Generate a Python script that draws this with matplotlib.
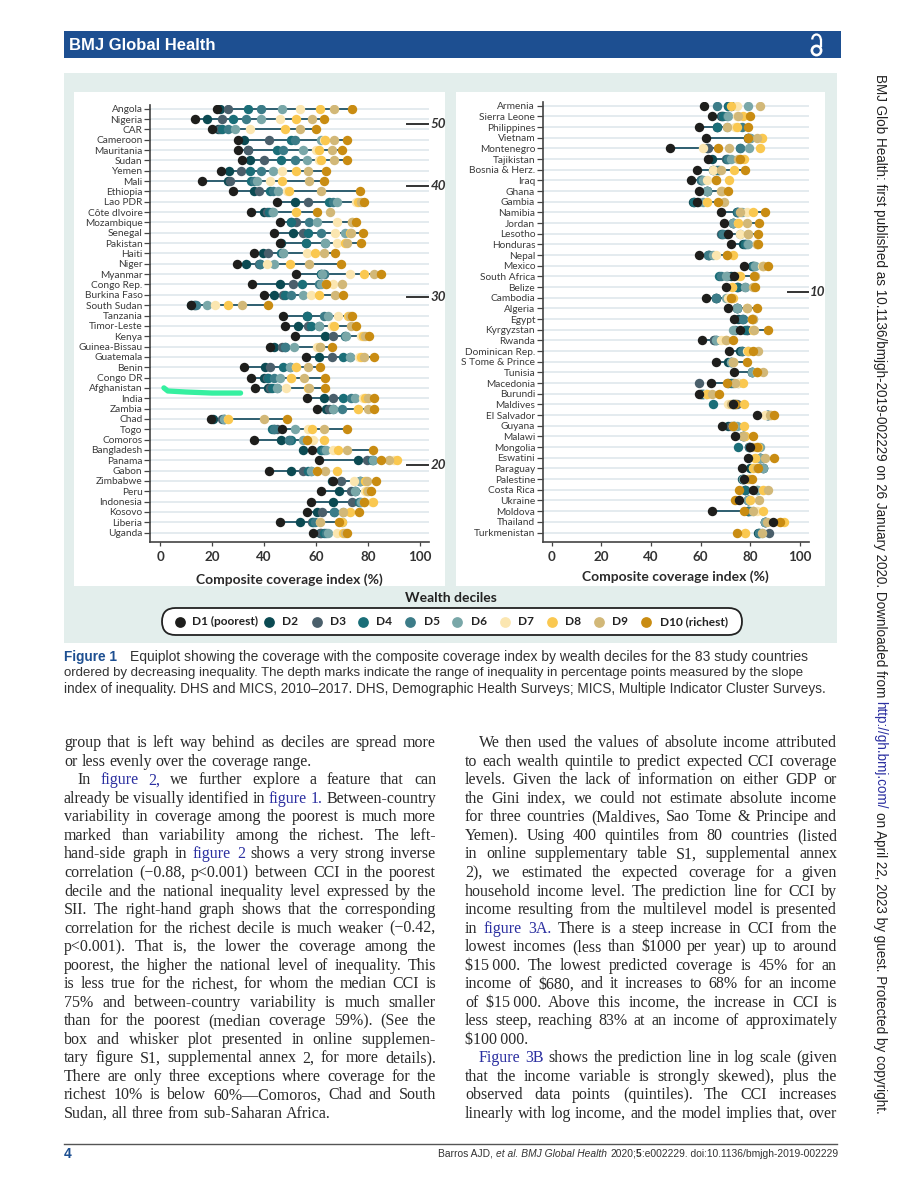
import numpy as np
import matplotlib
matplotlib.use('Agg')
import matplotlib.pyplot as plt
from matplotlib.patches import Rectangle, FancyBboxPatch, Circle, Arc

W, H = 900, 1200

left_countries = ['Angola', 'Nigeria', 'CAR', 'Cameroon', 'Mauritania', 'Sudan', 'Yemen', 'Mali', 'Ethiopia',
                  'Lao PDR', 'Côte dIvoire', 'Mozambique', 'Senegal', 'Pakistan', 'Haiti', 'Niger', 'Myanmar',
                  'Congo Rep.', 'Burkina Faso', 'South Sudan', 'Tanzania', 'Timor-Leste', 'Kenya', 'Guinea-Bissau',
                  'Guatemala', 'Benin', 'Congo DR', 'Afghanistan', 'India', 'Zambia', 'Chad', 'Togo', 'Comoros',
                  'Bangladesh', 'Panama', 'Gabon', 'Zimbabwe', 'Peru', 'Indonesia', 'Kosovo', 'Liberia', 'Uganda']

# one row per country, D1 to D10
left_values = [
    [22, 23, 26, 34, 39, 47, 54, 61.5, 67, 74],
    [13.5, 18, 24, 28, 33, 39, 46, 52.5, 58.5, 63],
    [20, 22.5, 23, 24, 26, 29, 34.5, 48, 54, 60],
    [30, 32.5, 42, 50.5, 52, 62, 63, 63.5, 67, 72],
    [30, 34, 34, 45, 47.5, 55, 60, 61, 66, 70],
    [31.5, 34.5, 40, 46.5, 52, 56.5, 61, 62, 67, 72],
    [23.5, 26.5, 31, 34.5, 39, 43.5, 47, 52.5, 57, 64],
    [16, 26, 27, 35, 36, 37.5, 42.5, 47, 57.5, 63],
    [28, 36, 38, 42.5, 43.5, 45.5, 49, 49.5, 62, 77],
    [45, 52, 57, 65, 66.5, 68, 75.5, 76, 77.5, 78.5],
    [35, 40, 41, 42, 43, 43.5, 52.5, 52.5, 65.5, 60.5],
    [46, 50.5, 52.5, 50.5, 57.5, 60.5, 68, 74, 74, 75.5],
    [44, 51, 55, 57, 62, 71, 67.5, 73, 73.5, 78],
    [46, 46.5, 56, 56, 63.5, 63.5, 68, 71, 72, 77.5],
    [36, 39.5, 41.5, 46.5, 47.5, 47.5, 56.5, 59.5, 63, 67.5],
    [29.5, 33, 38, 38.5, 38.5, 44, 41, 50, 57.5, 69.5],
    [52.5, 62, 63, 62, 63, 62.5, 73, 78.5, 82.5, 85],
    [35.5, 46, 51, 54.5, 61, 62, 66.5, 64, 70, 64],
    [40, 44, 47.5, 48, 50.5, 55, 58, 61, 67.5, 70.5],
    [12, 13, 13.5, 12, 14, 18, 21, 26, 31.5, 41.5],
    [47.5, 56.5, 56.5, 56.5, 63, 64.5, 68.5, 72.5, 73, 74],
    [48, 53, 57, 58, 61, 61, 66, 67, 73.5, 75.5],
    [52, 63.5, 66.5, 71, 71, 71.5, 77.5, 78, 79, 80.5],
    [42.5, 44, 47, 48, 48, 51.5, 60.5, 61.5, 61.5, 66],
    [56, 61, 66, 70.5, 73, 73, 76.5, 77.5, 78.5, 82.5],
    [32.5, 40.5, 42.5, 47.5, 50, 50, 52.5, 52.5, 57, 61.5],
    [35, 40, 41, 41.5, 44, 46, 50.5, 50.5, 55.5, 63.5],
    [36.5, 41.5, 42.5, 43, 45, 45, 48.5, 57, 57.5, 63.5],
    [56.5, 63, 66.5, 70.5, 73.5, 75, 78, 79, 80, 82.5],
    [60.5, 64, 65, 66.5, 70, 66.5, 76, 76, 80, 82.5],
    [19.5, 20.5, 24, 24.5, 24.5, 24.5, 26, 26, 40, 49],
    [47, 44, 45, 43, 44, 52, 57, 58.5, 63, 72],
    [36, 46.5, 49.5, 50.5, 49.5, 55, 59, 63, 56.5, 56.5],
    [58.5, 55, 62, 62, 63, 64, 66.5, 68.5, 72, 82],
    [61, 76, 79.5, 81.5, 82, 82, 90, 91, 88, 85],
    [42, 50.5, 55, 57, 58, 58, 60.5, 68, 63.5, 60.5],
    [66.5, 66, 69.5, 77, 77, 77, 74.5, 79, 79.5, 83],
    [62, 69, 73.5, 75, 75, 75, 79, 79.5, 80, 81],
    [58, 66.5, 74, 76.5, 77, 77.5, 81.5, 82, 78.5, 78.5],
    [56.5, 60.5, 62.5, 67, 67, 70.5, 73, 73, 70.5, 76.5],
    [46, 54, 58.5, 59, 59.5, 70, 61.5, 70, 61.5, 69],
    [59, 61.5, 62, 63, 64, 64.5, 68, 70.5, 71, 72],
]

right_countries = ['Armenia', 'Sierra Leone', 'Philippines', 'Vietnam', 'Montenegro', 'Tajikistan', 'Bosnia & Herz.',
                   'Iraq', 'Ghana', 'Gambia', 'Namibia', 'Jordan', 'Lesotho', 'Honduras', 'Nepal', 'Mexico',
                   'South Africa', 'Belize', 'Cambodia', 'Algeria', 'Egypt', 'Kyrgyzstan', 'Rwanda', 'Dominican Rep.',
                   'S Tome & Prince', 'Tunisia', 'Macedonia', 'Burundi', 'Maldives', 'El Salvador', 'Guyana', 'Malawi',
                   'Mongolia', 'Eswatini', 'Paraguay', 'Palestine', 'Costa Rica', 'Ukraine', 'Moldova', 'Thailand',
                   'Turkmenistan']

# nan = that decile can't be seen in the picture (hidden behind another dot)
right_values = [
    [61.5, 72, 71, 71, 66.5, 79, 74.5, 72, 84, np.nan],
    [64.5, 68, 68.5, 69, 70.5, 71, 74.5, 77, 75, 80],
    [59.5, 66.5, 66.5, 66.5, 76.5, 70.5, 74, 74.5, 70.5, 79],
    [62, 79, 79, 79, 80, 80, 84.5, 84.5, 82.5, 79],
    [47.5, 62.5, 63, 76, 76, 79.5, 61, 84, 71.5, 67],
    [63, 64.5, 70, 70.5, 71, 72, 76, 77.5, 75, 76],
    [58.5, 65, 66, 67, 67.5, 65, 65, 73.5, 68, 78],
    [56, 60, 60, 60.5, 60, 61, 62.5, 71.5, 66, 66],
    [59.5, 62.5, 62.5, 62.5, 62.5, 62.5, 68, 68.5, 68, 71],
    [58.5, 57, 57.5, 57.5, 59, 61, 62.5, 62.5, 69.5, 67],
    [68, 74.5, 74.5, 74.5, 75, 76.5, 78.5, 81, 76, 86],
    [69.5, 73, 73, 73, 73, 73, 75, 75, 78.5, 83.5],
    [71, 70.5, 68, 68.5, 69, 76, 76, 79, 79, 83],
    [72, 77, 78, 78, 78.5, 79, 82.5, 82.5, 82.5, 83],
    [59.5, 63.5, 63.5, 63, 63, 65, 66, 73, 70.5, 70.5],
    [77.5, 80.5, 81, 81, 81.5, 82, 84.5, 85, 85, 87],
    [73.5, 72, 70.5, 67.5, 68, 70, 75, 76, 82, 81.5],
    [70, 74.5, 75, 74.5, 78, 78, 72.5, 72.5, 81, 82],
    [62, 66, 66, 66, 66, 70, 71, 73, 72, 72],
    [71, 74.5, 74.5, 74.5, 74.5, 74.5, 78.5, 78.5, 78.5, 82.5],
    [73.5, 75, 76.5, 77, 77, 81, 80.5, 80.5, 81, 80.5],
    [76, 78.5, 78.5, 78, 74, 73, 81, 81, 81.5, 87],
    [60.5, 65.5, 65.5, 66, 66, 66, 68, 70, 70, 73],
    [71.5, 76, 76.5, 76.5, 76.5, 79, 78.5, 79, 83, 81],
    [66, 71, 72, 72, 72, 72, 73, 73, 73, 78.5],
    [73.5, 80.5, 80.5, 80.5, 80.5, 80.5, 82.5, 82.5, 85, 82.5],
    [64, 71, 59.5, 72, 73, 75, 75, 77, 74, 70.5],
    [59.5, 60, 60, 61, 61, 62, 62, 62.5, 64.5, 67.5],
    [73, 74, 74.5, 65, 73, 73, 71, 77.5, 72, 74],
    [82.5, 86.5, 86.5, 87, 87, 87, 86, 88.5, 88, 89.5],
    [68.5, 71, 72, 73.5, 73.5, 74.5, 73, 77.5, 73, 73],
    [74, 77, 77, 77, 77.5, 77.5, 77.5, 78, 77, 81],
    [80, 79.5, 79.5, 75, 79.5, 84, 82, 83, 80.5, 82.5],
    [79, 84, 84, 84, 84, 84, 82, 82, 86, 89.5],
    [76.5, 80, 85, 85, 85, 85, 81, 81, 82.5, 83],
    [77.5, 76.5, 77, 77, 77, 77, 79, 79, 80, 80.5],
    [81, 78, 78, 78, 82.5, 82.5, 85, 85, 87, 75.5],
    [75.5, 79, 79, 79, 79, 79, 80, 80, 83.5, 74],
    [64.5, 79, 79, 79, 80, 81, 82.5, 85, 81, 77.5],
    [89, 86, 86, 86, 86, 86, 92, 93.5, 86.5, 92],
    [np.nan, 83, 87.5, 83.5, 83.5, 84.5, 78, 78, 84.5, 74.5],
]

decile_labels = ['D1 (poorest)', 'D2', 'D3', 'D4', 'D5', 'D6', 'D7', 'D8', 'D9', 'D10 (richest)']
decile_colors = ['#1E1E1C', '#0B4A52', '#4A5F6B', '#1A6E78', '#3C7C88', '#79A7A8',
                 '#FBE6B0', '#FAC850', '#D2B878', '#C98C12']
x_ticks = [0, 20, 40, 60, 80, 100]

# slope index marks: label and row position in each panel
left_sii = [50, 40, 30, 20]
left_sii_rows = [1.5, 7.45, 18.2, 34.5]
right_sii = [10]
right_sii_rows = [17.5]

# the green marker stroke somebody left over the scan
marker_x = [1.5, 3, 10, 20, 31]
marker_rows = [27.0, 27.3, 27.4, 27.5, 27.5]

caption_lines = [
    'Equiplot showing the coverage with the composite coverage index by wealth deciles for the 83 study countries',
    'ordered by decreasing inequality. The depth marks indicate the range of inequality in percentage points measured by the slope',
    'index of inequality. DHS and MICS, 2010–2017. DHS, Demographic Health Surveys; MICS, Multiple Indicator Cluster Surveys.',
]

# ~ marks a link word, > an indented first line, $ at the end closes a paragraph
left_text = [
    'group that is left way behind as deciles are spread more',
    'or less evenly over the coverage range.$',
    '>In ~figure ~2, we further explore a feature that can',
    'already be visually identified in ~figure ~1. Between-country',
    'variability in coverage among the poorest is much more',
    'marked than variability among the richest. The left-',
    'hand-side graph in ~figure ~2 shows a very strong inverse',
    'correlation (−0.88, p<0.001) between CCI in the poorest',
    'decile and the national inequality level expressed by the',
    'SII. The right-hand graph shows that the corresponding',
    'correlation for the richest decile is much weaker (−0.42,',
    'p<0.001). That is, the lower the coverage among the',
    'poorest, the higher the national level of inequality. This',
    'is less true for the richest, for whom the median CCI is',
    '75% and between-country variability is much smaller',
    'than for the poorest (median coverage 59%). (See the',
    'box and whisker plot presented in online supplemen-',
    'tary figure S1, supplemental annex 2, for more details).',
    'There are only three exceptions where coverage for the',
    'richest 10% is below 60%—Comoros, Chad and South',
    'Sudan, all three from sub-Saharan Africa.$',
]
right_text = [
    '>We then used the values of absolute income attributed',
    'to each wealth quintile to predict expected CCI coverage',
    'levels. Given the lack of information on either GDP or',
    'the Gini index, we could not estimate absolute income',
    'for three countries (Maldives, Sao Tome & Principe and',
    'Yemen). Using 400 quintiles from 80 countries (listed',
    'in online supplementary table S1, supplemental annex',
    '2), we estimated the expected coverage for a given',
    'household income level. The prediction line for CCI by',
    'income resulting from the multilevel model is presented',
    'in ~figure ~3A. There is a steep increase in CCI from the',
    'lowest incomes (less than $1000 per year) up to around',
    '$15\u2009000. The lowest predicted coverage is 45% for an',
    'income of $680, and it increases to 68% for an income',
    'of $15\u2009000. Above this income, the increase in CCI is',
    'less steep, reaching 83% at an income of approximately',
    '$100\u2009000.$',
    '>~Figure ~3B shows the prediction line in log scale (given',
    'that the income variable is strongly skewed), plus the',
    'observed data points (quintiles). The CCI increases',
    'linearly with log income, and the model implies that, over',
]

fig = plt.figure(figsize=(W / 100, H / 100), dpi=100, facecolor='white')
page = fig.add_axes([0, 0, 1, 1], zorder=0)
page.set_xlim(0, W)
page.set_ylim(H, 0)
page.axis('off')
renderer = fig.canvas.get_renderer()


def text_width(s, **kw):
    t = page.text(0, 0, s, parse_math=False, **kw)
    w = t.get_window_extent(renderer).width
    t.remove()
    return w


def fit_size(s, width, size=10, **kw):
    """Font size that makes the string as wide as the given width."""
    return size * width / text_width(s, fontsize=size, **kw)


def draw_justified(lines, x0, x1, indent, first_y, step, **kw):
    """Draw body lines word by word so both column edges line up."""
    space = text_width('n n', **kw) - text_width('nn', **kw)
    for i, line in enumerate(lines):
        y = first_y + i * step
        start = x0
        if line.startswith('>'):
            start += indent
            line = line[1:]
        last = line.endswith('$')
        line = line.rstrip('$')
        words = line.split(' ')
        widths = [text_width(w.lstrip('~'), **kw) for w in words]
        gap = space if last else (x1 - start - sum(widths)) / (len(words) - 1)
        x = start
        for w, wd in zip(words, widths):
            color = '#2B2FA0' if w.startswith('~') else '#2A2A2A'
            page.text(x, y, w.lstrip('~'), va='center', ha='left', color=color, parse_math=False, **kw)
            x += wd + gap


def panel_axes(x0, x1, y0, y1):
    return fig.add_axes([x0 / W, 1 - y1 / H, (x1 - x0) / W, (y1 - y0) / H], zorder=2, facecolor='none')


def draw_equiplot(ax, countries, values, xlim, top_px, row0_px, step_px, bottom_px, sii, sii_rows, labelpad):
    values = np.array(values, dtype=float)
    rows = np.arange(len(countries))
    ax.set_xlim(*xlim)
    ax.set_ylim(len(countries) - 1 + (bottom_px - (row0_px + step_px * (len(countries) - 1))) / step_px,
                -(row0_px - top_px) / step_px)
    ax.hlines(rows, xlim[0], xlim[1], color='#E4EBEF', lw=1.4, zorder=1)
    # spike runs from poorest to richest only
    ax.hlines(rows, values[:, 0], values[:, 9], color='#2F5F70', lw=1.4, zorder=2)
    for d in list(range(1, 10)) + [0]:
        ax.scatter(values[:, d], rows, s=46, color=decile_colors[d], linewidths=0, zorder=3 + (d == 0))
    ax.set_yticks(rows)
    ax.set_yticklabels(countries, fontsize=7.3, color='#3A3A3A', family='Lato')
    ax.set_xticks(x_ticks)
    ax.set_xticklabels(x_ticks, fontsize=9.6, fontweight='bold', color='#333333', family='Lato')
    ax.tick_params(axis='y', length=4.2, width=0.9, color='#444444', pad=1.2)
    ax.tick_params(axis='x', length=3, width=0.9, color='#444444', pad=3.5)
    ax.spines['top'].set_visible(False)
    ax.spines['right'].set_visible(False)
    ax.spines['left'].set_color('#444444')
    ax.spines['bottom'].set_color('#444444')
    ax.spines['left'].set_linewidth(1.2)
    ax.spines['bottom'].set_linewidth(1.2)
    ax.set_xlabel('Composite coverage index (%)', fontsize=10.0, fontweight='bold', color='#2A2A2A',
                  family='Lato', labelpad=labelpad)
    for label, r in zip(sii, sii_rows):
        ax.plot([95, 103], [r, r], color='#333333', lw=1.4, zorder=3, clip_on=False)
        ax.text(104, r, str(label), fontsize=9.6, fontweight='bold', style='italic', color='#333333',
                va='center', ha='left', family='Lato')


# header band
page.add_patch(Rectangle((64, 31), 777, 27, color='#1D4F91', lw=0))
page.text(69, 45, 'BMJ Global Health', color='white', fontsize=12, fontweight='bold',
          family='Liberation Sans', va='center')
# open access padlock
page.add_patch(Circle((816.5, 50.5), 4.6, fill=False, ec='white', lw=1.9))
page.add_patch(Arc((816.5, 39.5), 8.5, 10, theta1=180, theta2=360, ec='white', lw=1.6))
page.plot([820.7, 820.7], [39.5, 46], color='white', lw=1.6)

# figure panel
page.add_patch(Rectangle((64, 73), 773, 570, color='#E3EEEC', lw=0))
page.add_patch(Rectangle((74, 92), 371, 494, color='white', lw=0))
page.add_patch(Rectangle((456, 92), 369, 494, color='white', lw=0))

ax_left = panel_axes(150, 429, 105, 541.7)
draw_equiplot(ax_left, left_countries, left_values, (-3.85, 103.5), 105, 108.7, 10.34, 541.7,
              left_sii, left_sii_rows, 7.5)
ax_left.plot(marker_x, marker_rows, color='#35F0A0', lw=3.8, solid_capstyle='round', zorder=6)

ax_right = panel_axes(542.7, 809, 102, 541.7)
draw_equiplot(ax_right, right_countries, right_values, (-3.6, 103.6), 102, 105.7, 10.67, 541.7,
              right_sii, right_sii_rows, 5.5)

# legend
page.text(451, 598, 'Wealth deciles', fontsize=10.0, fontweight='bold', family='Lato', color='#222222',
          ha='center', va='center')
page.add_patch(FancyBboxPatch((162, 608), 580, 27, boxstyle='round,pad=0,rounding_size=13.5',
                              fc='white', ec='#222222', lw=1.3, mutation_aspect=1))
legend_dot_x = [180, 269, 317, 363, 410, 457, 505, 552, 599, 646]
legend_text_x = [192, 282, 330, 376, 424, 471, 518, 565, 612, 660]
for lab, col, dx, tx in zip(decile_labels, decile_colors, legend_dot_x, legend_text_x):
    page.scatter([dx], [621.5], s=60, color=col, linewidths=0, zorder=3)
    page.text(tx, 621.5, lab, fontsize=8.6, fontweight='bold', family='Lato', color='#222222', va='center')

# caption, each line fitted to its width in the scan
cap_starts = [130, 64, 64]
cap_ends = [805, 810, 830]
cap_ys = [657, 673, 689]
page.text(64, 657, 'Figure 1', family='Liberation Sans', fontsize=9.8, fontweight='bold', color='#1D4F91', va='center')
for line, x0, x1, y in zip(caption_lines, cap_starts, cap_ends, cap_ys):
    size = fit_size(line, x1 - x0, family='Liberation Sans')
    page.text(x0, y, line, family='Liberation Sans', fontsize=size, color='#333333', va='center')

# body columns
body_kw = dict(family='Liberation Serif', fontsize=11.5)
draw_justified(left_text, 64, 436, 13.5, 743.3, 18.53, **body_kw)
draw_justified(right_text, 465, 837, 13.5, 743.3, 18.53, **body_kw)

# footer
page.plot([64, 837], [1144, 1144], color='#555555', lw=1.0)
page.text(64, 1154, '4', family='Liberation Sans', fontsize=10, fontweight='bold', color='#1D4F91', va='center')
foot_parts = [('Barros AJD, ', 'normal', 'normal'), ('et al. BMJ Global Health ', 'italic', 'normal'),
              ('2020;', 'normal', 'normal'), ('5', 'normal', 'bold'),
              (':e002229. doi:10.1136/bmjgh-2019-002229', 'normal', 'normal')]
foot_size = 7.4
x = 438
for part, font_style, weight in foot_parts:
    kw = dict(family='Liberation Sans', fontsize=foot_size, style=font_style, fontweight=weight)
    page.text(x, 1154, part, color='#333333', va='center', **kw)
    x += text_width(part.replace(' ', '\u00a0'), **kw)

# running text up the right margin
side_parts = [('BMJ Glob Health: first published as 10.1136/bmjgh-2019-002229 on 26 January 2020. Downloaded from ', '#222222'),
              ('http://gh.bmj.com/', '#2B2FA0'),
              (' on April 22, 2023 by guest. Protected by copyright.', '#222222')]
side_kw = dict(family='Liberation Sans', fontsize=9.76)
y = 74
for part, col in side_parts:
    w = text_width(part.replace(' ', '\u00a0'), **side_kw)
    lead = text_width('\u00a0', **side_kw) if part.startswith(' ') else 0
    page.text(880, y + lead, part.strip(), color=col, rotation=-90, va='top', ha='center', **side_kw)
    y += w

fig.savefig('out.png', dpi=100)
